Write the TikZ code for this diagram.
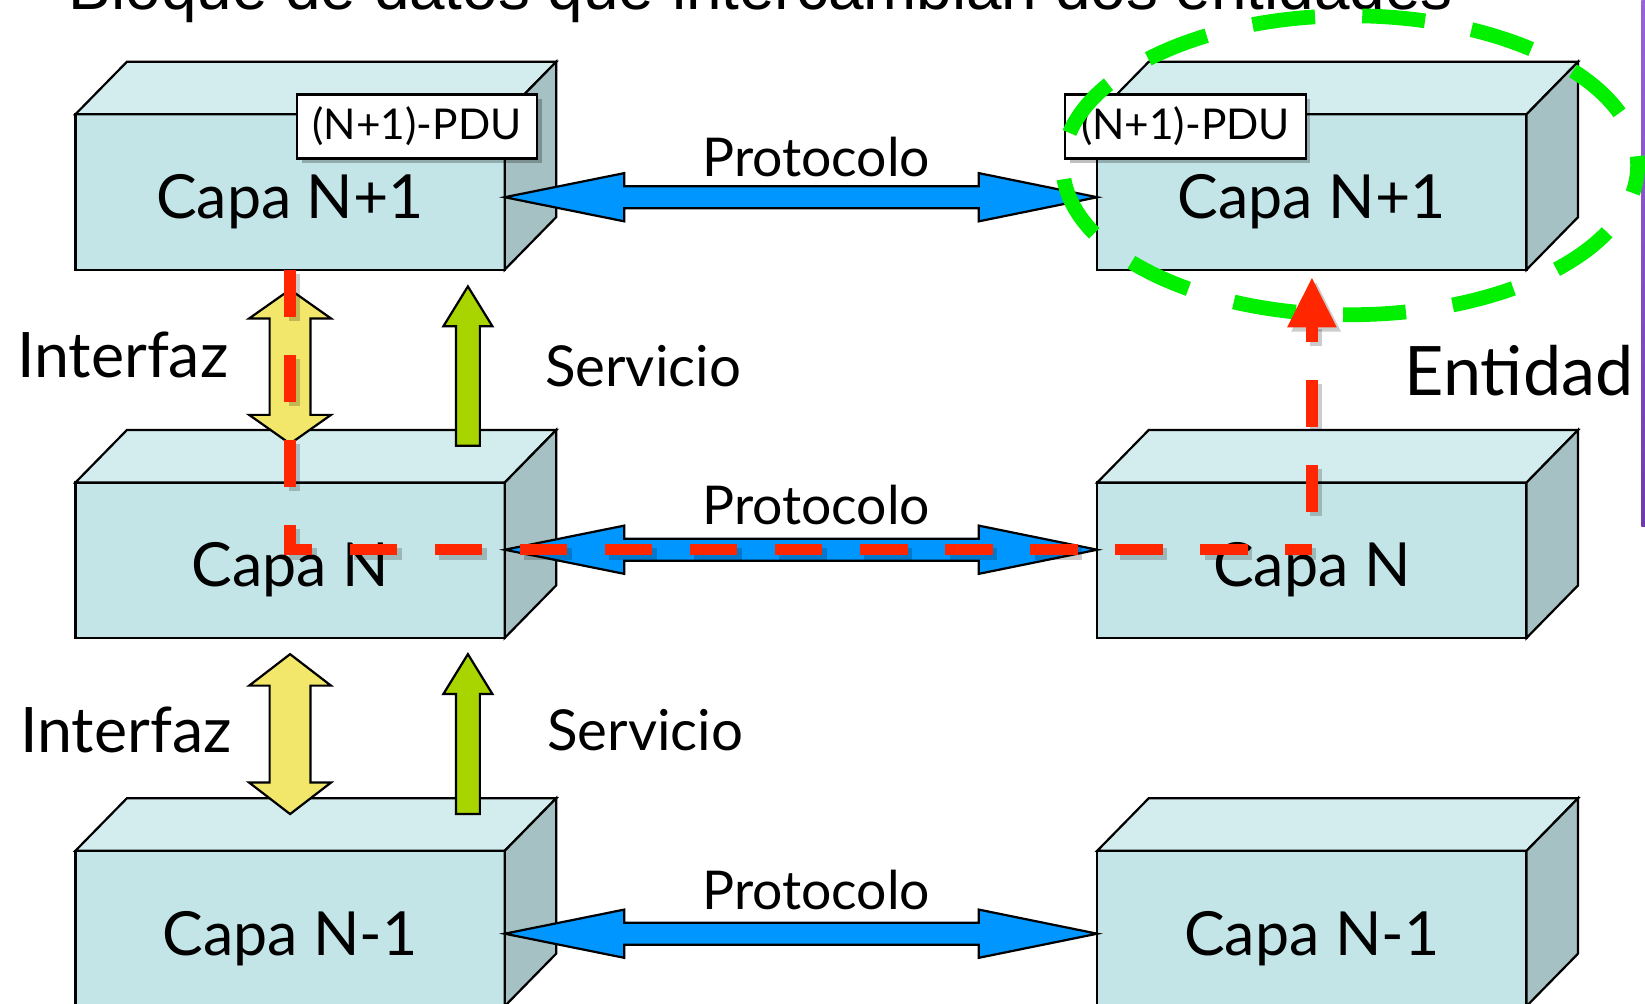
\documentclass[tikz,border=0pt]{standalone}
\usepackage{fontspec}
\setmainfont{Lato}
\newfontfamily\titlefont{Liberation Sans}
\usetikzlibrary{calc,arrows.meta,shadows}

\definecolor{facefront}{RGB}{196,229,231}
\definecolor{facetop}{RGB}{211,236,238}
\definecolor{faceside}{RGB}{166,193,196}
\definecolor{protoblue}{RGB}{0,150,255}
\definecolor{ifyellow}{RGB}{242,231,107}
\definecolor{svgreen}{RGB}{168,212,0}
\definecolor{redline}{RGB}{255,38,0}
\definecolor{entgreen}{RGB}{0,240,0}
\definecolor{bartop}{RGB}{150,100,215}
\definecolor{barbot}{RGB}{110,60,170}

\newcommand\layerbox[4]{%
  \node[layer] (#1) at (#2,#3) {#4};
  \path[topface] (#1.north west) -- ++(49,-50) -- ($(#1.north east)+(49,-50)$) -- (#1.north east) -- cycle;
  \path[sideface] (#1.north east) -- ++(49,-50) -- ($(#1.south east)+(49,-50)$) -- (#1.south east) -- cycle;
}
\newcommand\protoarrow[2]{%
  \path[proto] (#1) -- ++(114,-23) -- ++(0,12.5) -- ($(#2)+(-113,-10.5)$) -- ++(0,-12.5) -- (#2)
    -- ++(-113,23) -- ++(0,-12.5) -- ($(#1)+(114,10.5)$) -- ++(0,12.5) -- cycle;
}
\newcommand\ifacearrow[3]{%
  \path[iface] (#1) -- ++(39,#3) -- ++(-19.5,0) -- ($(#2)+(19.5,-#3)$) -- ++(19.5,0) -- (#2)
    -- ++(-39,-#3) -- ++(19.5,0) -- ($(#1)+(-19.5,#3)$) -- ++(-19.5,0) -- cycle;
}
\newcommand\servarrow[2]{%
  \path[serv] ($(#2)+(-11.4,0)$) -- ($(#1)+(-11.4,38)$) -- ++(-12,0) -- (#1) -- ++(23.4,38)
    -- ++(-12,0) -- ($(#2)+(11.4,0)$) -- cycle;
}

\begin{document}
\begin{tikzpicture}[x=0.01cm,y=-0.01cm,
  outline/.style={draw=black,line width=0.6pt,line join=miter},
  layer/.style={outline,fill=facefront,minimum width=4.09cm,minimum height=1.48cm,
    inner sep=0pt,outer sep=0pt,font=\fontsize{16.5}{18}\selectfont,text height=14.4pt,text depth=0pt},
  topface/.style={outline,fill=facetop},
  sideface/.style={outline,fill=faceside},
  pdu/.style={outline,fill=white,minimum width=2.29cm,minimum height=0.61cm,inner sep=0pt,
    font=\fontsize{11.5}{13}\selectfont,
    drop shadow={shadow xshift=0.45mm,shadow yshift=-0.45mm,opacity=0.25,fill=black}},
  proto/.style={outline,fill=protoblue},
  iface/.style={outline,fill=ifyellow},
  serv/.style={outline,fill=svgreen},
  lab/.style={anchor=base,inner sep=0pt},
  protolab/.style={lab,font=\fontsize{14.5}{16}\selectfont},
  ifacelab/.style={lab,font=\fontsize{17}{19}\selectfont},
  servlab/.style={lab,font=\fontsize{15.3}{17}\selectfont},
  redpath/.style={draw=redline,line width=3.1pt,dash pattern=on 4.5mm off 3.6mm},
  redshadow/.style={draw=black,opacity=0.2,line width=3.1pt,dash pattern=on 4.5mm off 3.6mm,
    transform canvas={xshift=0.4mm,yshift=-0.4mm}},
  enttip/.style={-{Triangle[length=4.8mm,width=4.4mm]}}
]
\useasboundingbox (0,0) rectangle (1568,957);
\clip (0,0) rectangle (1568,957);

% title (cut off at the top, as in the original)
\node[anchor=base west,inner sep=0pt,font=\titlefont\fontsize{17.3}{20}\selectfont] (title) at (65,9)
  {Bloque de datos que intercambian dos entidades};

% purple bar at the right edge
\shade[top color=bartop,bottom color=barbot] (1564.5,0) rectangle (1568,502);

% layer boxes
\layerbox{L1}{276.5}{183}{Capa N+1}
\layerbox{L2}{276.5}{534}{Capa N}
\layerbox{L3}{276.5}{885}{Capa N-1}
\layerbox{R1}{1250.5}{183}{Capa N+1}
\layerbox{R2}{1250.5}{534}{Capa N}
\layerbox{R3}{1250.5}{885}{Capa N-1}

% PDU labels
\node[pdu] (P1) at (397.5,120.5) {(N+1)-PDU};
\node[pdu] (P2) at (1130,120.5) {(N+1)-PDU};

% protocol arrows
\coordinate (a1) at ($(L1.east)+(0,5)$);
\coordinate (b1) at ($(R1.west)+(0,5)$);
\coordinate (a2) at ($(L2.east)+(0,-10)$);
\coordinate (b2) at ($(R2.west)+(0,-10)$);
\coordinate (a3) at ($(L3.east)+(0,5)$);
\coordinate (b3) at ($(R3.west)+(0,5)$);
\protoarrow{a1}{b1}
\protoarrow{a2}{b2}
\protoarrow{a3}{b3}

% interface arrows
\coordinate (y1t) at ($(L1.south)+(0,19)$);
\coordinate (y1b) at ($(L2.north)+(0,-37)$);
\coordinate (y2t) at ($(L2.south)+(0,15.5)$);
\coordinate (y2b) at ($(L3.north)+(0,-35)$);
\ifacearrow{y1t}{y1b}{27.5}
\ifacearrow{y2t}{y2b}{30}

% service arrows
\coordinate (g1t) at ($(L1.south)+(169.5,16)$);
\coordinate (g1b) at ($(L2.north)+(169.5,-35)$);
\coordinate (g2t) at ($(L2.south)+(169.5,15.5)$);
\coordinate (g2b) at ($(L3.north)+(169.5,-35)$);
\servarrow{g1t}{g1b}
\servarrow{g2t}{g2b}

% labels
\node[protolab] (pr1) at (778,168) {Protocolo};
\node[protolab] (pr2) at (778,500) {Protocolo};
\node[protolab] (pr3) at (778,867) {Protocolo};
\node[ifacelab] (if1) at (117,360) {Interfaz};
\node[ifacelab] (if2) at (120,717) {Interfaz};
\node[servlab] (sv1) at (613,368) {Servicio};
\node[servlab] (sv2) at (615,715) {Servicio};
\node[lab,font=\fontsize{18.5}{20}\selectfont] (ent) at (1448,377) {Entidad};

% entity ellipse
\coordinate (ec) at (1287,157.5);
\draw[entgreen,line width=4pt,dash pattern=on 6mm off 4.5mm,dash phase=3.3mm]
  (ec) ellipse [x radius=274, y radius=142.5];

% red data path
\coordinate (m) at ($(L2.east)+(0,-10)$);
\draw[redshadow] (L1.south) |- (R1.south |- m);
\draw[redshadow,dash phase=4.5mm,enttip,shorten >=2] (R1.south |- m) -- (R1.south);
\draw[redpath] (L1.south) |- (R1.south |- m);
\draw[redpath,dash phase=4.5mm,enttip,shorten >=2] (R1.south |- m) -- (R1.south);
\end{tikzpicture}
\end{document}
